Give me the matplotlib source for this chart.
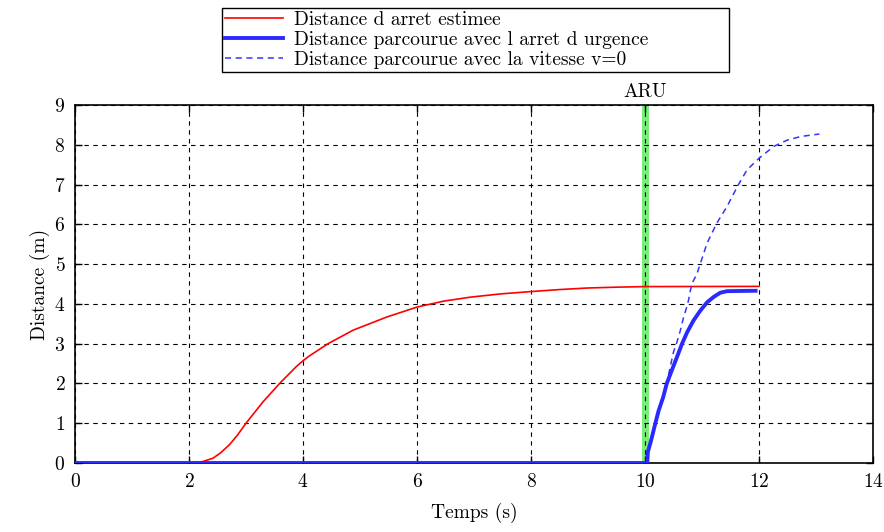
import numpy as np
import matplotlib
matplotlib.use("Agg")
import matplotlib.pyplot as plt

# Distance d'arret estimee (red)
t_est = [0.0, 2.0, 2.1, 2.25, 2.42, 2.55, 2.71, 2.85, 3.0, 3.3, 3.59, 3.88, 4.0, 4.11,
         4.44, 4.88, 5.47, 6.0, 6.47, 6.94, 7.46, 8.0, 8.5, 9.0, 9.5, 10.0, 12.0]
d_est = [0.0, 0.0, 0.0, 0.04, 0.12, 0.25, 0.46, 0.7, 1.0, 1.54, 2.0, 2.42, 2.57, 2.69,
         3.0, 3.34, 3.67, 3.92, 4.07, 4.17, 4.25, 4.31, 4.36, 4.40, 4.42, 4.435, 4.44]

# Distance parcourue avec l'arret d'urgence (blue solid)
t_aru = [0.0, 10.04, 10.05, 10.1, 10.18, 10.24, 10.32, 10.38, 10.47, 10.56, 10.65,
         10.74, 10.85, 10.97, 11.09, 11.21, 11.32, 11.44, 11.94]
d_aru = [0.0, 0.0, 0.28, 0.53, 0.99, 1.32, 1.66, 1.99, 2.33, 2.66, 3.0,
         3.29, 3.58, 3.83, 4.04, 4.18, 4.28, 4.32, 4.33]

# Distance parcourue avec la vitesse v=0 (blue dashed)
t_v0 = [0.0, 10.04, 10.05, 10.1, 10.18, 10.24, 10.32, 10.38, 10.44, 10.5, 10.56,
        10.62, 10.68, 10.75, 10.82, 10.91, 11.09, 11.26, 11.44, 11.62, 11.79, 12.0,
        12.26, 12.5, 12.74, 13.06]
d_v0 = [0.0, 0.0, 0.28, 0.53, 0.99, 1.32, 1.66, 1.99, 2.4, 2.79, 3.04,
        3.33, 3.68, 4.0, 4.5, 4.75, 5.53, 6.03, 6.45, 6.95, 7.37, 7.66,
        7.96, 8.12, 8.21, 8.27]

t_aru_event = 10.0

plt.rcParams["font.family"] = ["cmr10", "DejaVu Serif"]
plt.rcParams["font.size"] = 14
plt.rcParams["axes.formatter.use_mathtext"] = True

fig = plt.figure(figsize=(8.84, 5.32), dpi=100)
ax = fig.add_axes([75 / 884, 1 - 463 / 532, (873 - 75) / 884, (463 - 105) / 532])

ax.axvline(t_aru_event, color="#77ee77", linewidth=5, zorder=1)
ax.grid(True, color="black", linestyle=(0, (4, 4)), linewidth=0.8, zorder=0)

ax.plot(t_est, d_est, color="red", linewidth=1.2, label="Distance d arret estimee", zorder=3)
ax.plot(t_aru, d_aru, color="#2a2aff", linewidth=2.8,
        label="Distance parcourue avec l arret d urgence", zorder=4)
ax.plot(t_v0, d_v0, color="#3333ff", linewidth=1.1, linestyle=(0, (4, 3)),
        label="Distance parcourue avec la vitesse v=0", zorder=3)

ax.text(t_aru_event, 9.1, "ARU", ha="center", va="bottom")

ax.set_xlim(0, 14)
ax.set_ylim(0, 9)
ax.set_xticks(range(0, 15, 2))
ax.set_yticks(range(0, 10))
ax.tick_params(direction="in", top=True, right=True, length=5, width=1, pad=7)
for s in ax.spines.values():
    s.set_linewidth(1.2)
ax.set_xlabel("Temps (s)", labelpad=9)
ax.set_ylabel("Distance (m)", labelpad=3)

leg = fig.legend(loc="center", bbox_to_anchor=(222 / 884, 1 - 75 / 532, 507 / 884, 70 / 532),
                 mode="expand", fancybox=False, edgecolor="black", framealpha=1,
                 handlelength=3.0, borderaxespad=0, borderpad=0.15, labelspacing=0.12,
                 handletextpad=0.55)
leg.get_frame().set_linewidth(1.0)

fig.savefig("out.png", dpi=100)
